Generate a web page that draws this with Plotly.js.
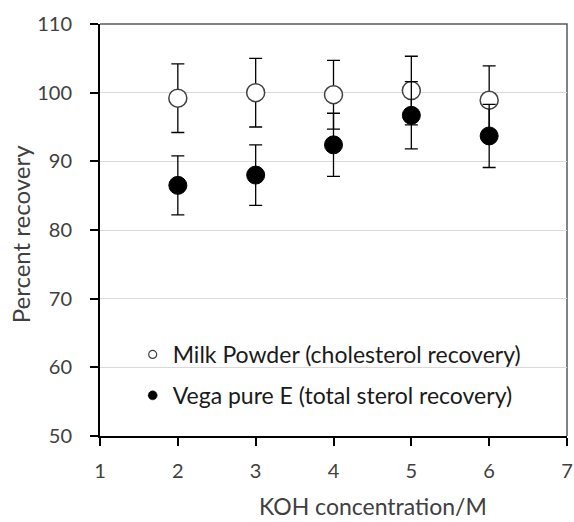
<!DOCTYPE html>
<html>
<head>
<meta charset="utf-8">
<script src="https://cdn.plot.ly/plotly-3.0.1.min.js"></script>
<style>
  html, body { margin: 0; padding: 0; background: #fff; }
  #chart { width: 574px; height: 522px; }
</style>
</head>
<body>
<div id="chart"></div>
<script>
// KOH concentration (M)
const kohConc = [2, 3, 4, 5, 6];

// Milk powder: cholesterol recovery (%) and its error
const milkRecovery = [99.2, 100.0, 99.7, 100.3, 98.9];
const milkError = [5.0, 5.0, 5.0, 5.0, 5.0];

// Vega pure E: total sterol recovery (%) and its error
const vegaRecovery = [86.5, 88.0, 92.4, 96.7, 93.7];
const vegaError = [4.3, 4.4, 4.6, 4.9, 4.6];

// Legend labels and axis titles
const milkLabel = 'Milk Powder (cholesterol recovery)';
const vegaLabel = 'Vega pure E (total sterol recovery)';
const xTitle = 'KOH concentration/M';
const yTitle = 'Percent recovery';

const FONT = 'Lato, Carlito, "Liberation Sans", sans-serif';
const TEXT = '#404040';

const errStyle = { type: 'data', visible: true, color: '#000', thickness: 1.3, width: 6.5 };

const traces = [
  {
    x: kohConc, y: milkRecovery, type: 'scatter', mode: 'markers',
    name: milkLabel, showlegend: false,
    marker: { symbol: 'circle', size: 18, color: '#fff', line: { color: '#404040', width: 1.5 } },
    error_y: Object.assign({ array: milkError }, errStyle)
  },
  {
    x: kohConc, y: vegaRecovery, type: 'scatter', mode: 'markers',
    name: vegaLabel, showlegend: false,
    marker: { symbol: 'circle', size: 18, color: '#000', line: { color: '#000', width: 1 } },
    error_y: Object.assign({ array: vegaError }, errStyle)
  },
  // legend entries with small symbols
  {
    x: [null], y: [null], type: 'scatter', mode: 'markers', name: milkLabel,
    legendgroup: 'milk',
    marker: { symbol: 'circle', size: 8, color: '#fff', line: { color: '#404040', width: 1.2 } }
  },
  {
    x: [null], y: [null], type: 'scatter', mode: 'markers', name: vegaLabel,
    legendgroup: 'vega',
    marker: { symbol: 'circle', size: 9, color: '#000', line: { color: '#000', width: 0.5 } }
  }
];

const layout = {
  width: 574, height: 522,
  margin: { l: 100, r: 7, t: 24, b: 86, pad: 0 },
  paper_bgcolor: '#fff', plot_bgcolor: '#fff',
  font: { family: FONT, size: 20, color: TEXT },
  showlegend: true,
  legend: {
    x: 0.07, y: 0.25, xanchor: 'left', yanchor: 'top',
    bgcolor: 'rgba(0,0,0,0)', borderwidth: 0,
    font: { family: FONT, size: 23, color: '#1a1a1a' },
    traceorder: 'grouped', tracegroupgap: 8,
    itemwidth: 30
  },
  xaxis: {
    range: [1, 7], dtick: 1, tick0: 1,
    showgrid: false, zeroline: false,
    showline: true, linecolor: '#000', linewidth: 2,
    ticks: 'outside', ticklen: 8, tickwidth: 2, tickcolor: '#000',
    ticklabelstandoff: 8,
    tickfont: { family: FONT, size: 20, color: TEXT }
  },
  yaxis: {
    range: [50, 110], dtick: 10, tick0: 50,
    showgrid: true, gridcolor: '#d9d9d9', gridwidth: 1,
    zeroline: false,
    showline: true, linecolor: '#000', linewidth: 2,
    ticks: 'outside', ticklen: 8, tickwidth: 2, tickcolor: '#000',
    ticklabelstandoff: 14,
    tickfont: { family: FONT, size: 20, color: TEXT }
  },
  annotations: [
    {
      text: xTitle, xref: 'paper', yref: 'paper', x: 0.585, y: -0.208,
      xanchor: 'center', yanchor: 'bottom', showarrow: false,
      font: { family: FONT, size: 23, color: TEXT }
    },
    {
      text: yTitle, xref: 'paper', yref: 'paper', x: -0.171, y: 0.49,
      xanchor: 'center', yanchor: 'middle', showarrow: false, textangle: -90,
      font: { family: FONT, size: 24, color: TEXT }
    }
  ],
  shapes: [
    // top and right frame edges
    {
      type: 'path', xref: 'paper', yref: 'paper',
      path: 'M0,1 L1,1 L1,0', line: { color: '#595959', width: 1.5 }, layer: 'below'
    }
  ]
};

Plotly.newPlot('chart', traces, layout, { displayModeBar: false, staticPlot: true });
</script>
</body>
</html>
